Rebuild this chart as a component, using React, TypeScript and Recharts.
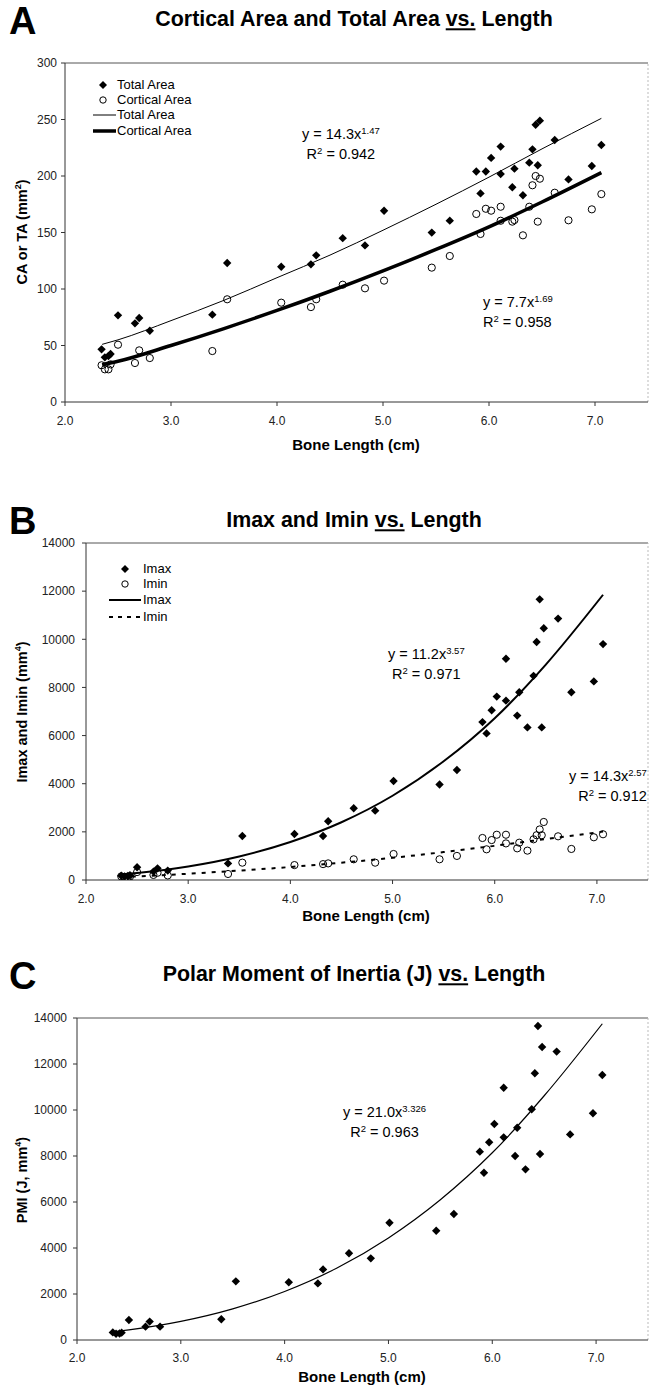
import React from 'react';
import { ComposedChart, Scatter, Line, XAxis, YAxis, ReferenceLine } from 'recharts';

const FONT = '"Liberation Sans", Arial, sans-serif';

// Bone length (cm) for each specimen, shared by all panels
const boneLength = [2.345, 2.376, 2.41, 2.43, 2.5, 2.66, 2.7, 2.8, 3.39, 3.53, 4.04, 4.32, 4.37, 4.62, 4.83, 5.01, 5.46, 5.63, 5.88, 5.92, 5.97, 6.02, 6.11, 6.11, 6.22, 6.24, 6.32, 6.38, 6.41, 6.44, 6.46, 6.48, 6.62, 6.75, 6.97, 7.06];
// Panel A values (mm^2)
const totalArea = [46.6, 39.5, 40.7, 42.5, 76.7, 69.6, 74.3, 63, 77.3, 123, 119.7, 121.8, 129.8, 145, 138.6, 169.3, 149.9, 160.5, 204, 184.6, 204, 216, 201.8, 226, 190, 206.5, 183, 211.8, 223.6, 245.4, 209.5, 249, 231.9, 197, 208.8, 227.4];
const corticalArea = [32.5, 28.9, 28.9, 33.3, 50.7, 34.5, 45.7, 38.9, 45.1, 90.9, 87.9, 84, 90.9, 103.8, 100.6, 107.4, 118.9, 129.2, 166.4, 148.7, 171, 169.3, 160.4, 172.8, 159.6, 161, 147.5, 172.8, 191.8, 200, 159.6, 197.6, 185.2, 160.8, 170.5, 184];
// Panel B values (mm^4)
const imax = [180, 150, 170, 200, 530, 350, 485, 390, 690, 1830, 1910, 1830, 2440, 2980, 2880, 4110, 3970, 4570, 6560, 6090, 7050, 7620, 7450, 9190, 6830, 7800, 6340, 8480, 9890, 11660, 6340, 10460, 10860, 7800, 8250, 9800];
const imin = [150, 100, 110, 140, 330, 210, 300, 190, 250, 720, 620, 660, 690, 860, 720, 1080, 860, 1000, 1745, 1275, 1660, 1880, 1520, 1880, 1315, 1550, 1220, 1690, 1860, 2100, 1860, 2410, 1815, 1290, 1775, 1900];
// Panel C values (J, mm^4)
const pmi = [330, 270, 280, 320, 870, 580, 800, 580, 900, 2550, 2510, 2460, 3070, 3770, 3550, 5100, 4750, 5480, 8190, 7270, 8600, 9390, 8810, 10970, 8000, 9230, 7420, 10030, 11600, 13650, 8090, 12740, 12540, 8940, 9860, 11520];

// Trend curves
const trendX = [2.35, 2.5, 3, 3.5, 4, 4.5, 5, 5.5, 6, 6.5, 7.06];
const taTrend = [51, 55, 72, 90, 110, 130, 152, 175, 199, 224, 251];
const caTrend = [33, 36, 50, 65, 81, 98, 116, 135, 155, 177, 203];
const imaxTrend = [236, 295, 565, 980, 1580, 2400, 3500, 4930, 6720, 8950, 11850];
const iminTrend = [128, 150, 260, 390, 540, 720, 920, 1160, 1420, 1700, 2010];
const pmiTrend = [359, 442, 811, 1355, 2110, 3120, 4440, 6100, 8140, 10620, 13750];

// Axis ticks
const xTicks = [2, 3, 4, 5, 6, 7];
const areaTicks = [0, 50, 100, 150, 200, 250, 300];
const inertiaTicks = [0, 2000, 4000, 6000, 8000, 10000, 12000, 14000];

const pts = (xs: number[], ys: number[]) => xs.map((x, i) => ({ x, y: ys[i] }));

const Diamond = (p: any) => {
  const { cx, cy } = p;
  const r = 4.2;
  return <polygon points={`${cx},${cy - r} ${cx + r},${cy} ${cx},${cy + r} ${cx - r},${cy}`} fill="#000" />;
};
const Ring = (p: any) => <circle cx={p.cx} cy={p.cy} r={3.6} fill="none" stroke="#000" strokeWidth={1} />;

const tickStyle = { fill: '#222', fontSize: 12, fontFamily: FONT };

const Txt = ({ x, y, children, style }: any) => (
  <div style={{ position: 'absolute', left: x, top: y, whiteSpace: 'nowrap', lineHeight: 1, fontFamily: FONT, color: '#000', ...style }}>{children}</div>
);
const Center = ({ x, y, children, style }: any) => (
  <Txt x={x} y={y} style={{ transform: 'translate(-50%, -50%)', ...style }}>{children}</Txt>
);
const VTitle = ({ x, y, children }: any) => (
  <Txt x={x} y={y} style={{ transform: 'translate(-50%, -50%) rotate(-90deg)', fontWeight: 'bold', fontSize: 14.5 }}>{children}</Txt>
);

const LegendMarker = ({ x, y, kind }: any) => (
  <svg style={{ position: 'absolute', left: x - 6, top: y - 6 }} width={12} height={12}>
    {kind === 'diamond' ? <polygon points="6,2 10,6 6,10 2,6" fill="#000" /> : <circle cx={6} cy={6} r={3.2} fill="none" stroke="#000" strokeWidth={1} />}
  </svg>
);
const LegendLine = ({ x1, x2, y, width, dash }: any) => (
  <svg style={{ position: 'absolute', left: x1, top: y - 4 }} width={x2 - x1} height={8}>
    <line x1={0} x2={x2 - x1} y1={4} y2={4} stroke="#000" strokeWidth={width} strokeDasharray={dash} />
  </svg>
);

const Eq = ({ x, y, a, b, r2, align }: any) => (
  <div style={{ position: 'absolute', left: x, top: y, fontFamily: FONT, fontSize: 14.5, lineHeight: '20px', textAlign: align || 'center', whiteSpace: 'nowrap' }}>
    <div>y = {a}x<sup style={{ fontSize: 9.5, verticalAlign: 'top', position: 'relative', top: -3 }}>{b}</sup></div>
    <div>R<sup style={{ fontSize: 9.5, verticalAlign: 'top', position: 'relative', top: -3 }}>2</sup> = {r2}</div>
  </div>
);

const fmtX = (v: number) => v.toFixed(1);

export default function App() {
  return (
    <div style={{ position: 'absolute', left: 0, top: 0, width: 652, height: 1388, background: '#fff', overflow: 'hidden' }}>
      {/* Panel A */}
      <div style={{ position: 'absolute', left: 0, top: 0 }}>
        <ComposedChart width={652} height={460} margin={{ top: 63, right: 4, bottom: 28, left: 0 }}>
          <XAxis type="number" dataKey="x" domain={[2, 7.5]} ticks={xTicks} tickFormatter={fmtX} height={30} tick={tickStyle} tickSize={4} tickMargin={10} axisLine={{ stroke: '#333' }} tickLine={{ stroke: '#333' }} allowDataOverflow />
          <YAxis type="number" dataKey="y" domain={[0, 300]} ticks={areaTicks} width={65} tick={tickStyle} tickSize={4} tickMargin={4} axisLine={{ stroke: '#333' }} tickLine={{ stroke: '#333' }} allowDataOverflow />
          <ReferenceLine y={300} stroke="#555" strokeWidth={1} />
          <ReferenceLine x={7.5} stroke="#bbb" strokeDasharray="2 2" />
          <Line data={pts(trendX, taTrend)} dataKey="y" type="monotone" stroke="#000" strokeWidth={1} dot={false} isAnimationActive={false} />
          <Line data={pts(trendX, caTrend)} dataKey="y" type="monotone" stroke="#000" strokeWidth={3.5} dot={false} isAnimationActive={false} />
          <Scatter data={pts(boneLength, totalArea)} dataKey="y" shape={Diamond} isAnimationActive={false} />
          <Scatter data={pts(boneLength, corticalArea)} dataKey="y" shape={Ring} isAnimationActive={false} />
        </ComposedChart>
      </div>
      <Txt x={9} y={2} style={{ fontSize: 38, fontWeight: 'bold' }}>A</Txt>
      <Center x={354} y={20} style={{ fontSize: 21.4, fontWeight: 'bold' }}>Cortical Area and Total Area <u>vs.</u> Length</Center>
      <VTitle x={22} y={232}>CA or TA (mm<sup style={{ fontSize: 9 }}>2</sup>)</VTitle>
      <Center x={356} y={444} style={{ fontSize: 15, fontWeight: 'bold' }}>Bone Length (cm)</Center>
      <LegendMarker x={103} y={85} kind="diamond" />
      <Txt x={117} y={78} style={{ fontSize: 13 }}>Total Area</Txt>
      <LegendMarker x={103} y={100} kind="ring" />
      <Txt x={117} y={93} style={{ fontSize: 13 }}>Cortical Area</Txt>
      <LegendLine x1={93} x2={116} y={115} width={1} />
      <Txt x={117} y={108} style={{ fontSize: 13 }}>Total Area</Txt>
      <LegendLine x1={93} x2={116} y={131} width={3.5} />
      <Txt x={117} y={124} style={{ fontSize: 13 }}>Cortical Area</Txt>
      <Eq x={302} y={124} a="14.3" b="1.47" r2="0.942" />
      <Eq x={483} y={292} a="7.7" b="1.69" r2="0.958" align="left" />

      {/* Panel B */}
      <div style={{ position: 'absolute', left: 0, top: 480 }}>
        <ComposedChart width={652} height={460} margin={{ top: 63, right: 4, bottom: 30, left: 0 }}>
          <XAxis type="number" dataKey="x" domain={[2, 7.5]} ticks={xTicks} tickFormatter={fmtX} height={30} tick={tickStyle} tickSize={4} tickMargin={10} axisLine={{ stroke: '#333' }} tickLine={{ stroke: '#333' }} allowDataOverflow />
          <YAxis type="number" dataKey="y" domain={[0, 14000]} ticks={inertiaTicks} width={86} tick={tickStyle} tickSize={4} tickMargin={7} axisLine={{ stroke: '#333' }} tickLine={{ stroke: '#333' }} allowDataOverflow />
          <ReferenceLine y={14000} stroke="#555" strokeWidth={1} />
          <ReferenceLine x={7.5} stroke="#bbb" strokeDasharray="2 2" />
          <Line data={pts(trendX, imaxTrend)} dataKey="y" type="monotone" stroke="#000" strokeWidth={2} dot={false} isAnimationActive={false} />
          <Line data={pts(trendX, iminTrend)} dataKey="y" type="monotone" stroke="#000" strokeWidth={2} strokeDasharray="4 6" dot={false} isAnimationActive={false} />
          <Scatter data={pts(boneLength, imax)} dataKey="y" shape={Diamond} isAnimationActive={false} />
          <Scatter data={pts(boneLength, imin)} dataKey="y" shape={Ring} isAnimationActive={false} />
        </ComposedChart>
      </div>
      <Txt x={9} y={502} style={{ fontSize: 38, fontWeight: 'bold' }}>B</Txt>
      <Center x={354} y={521} style={{ fontSize: 21.4, fontWeight: 'bold' }}>Imax and Imin <u>vs.</u> Length</Center>
      <VTitle x={22} y={712}>Imax and Imin (mm<sup style={{ fontSize: 9 }}>4</sup>)</VTitle>
      <Center x={366} y={915} style={{ fontSize: 15, fontWeight: 'bold' }}>Bone Length (cm)</Center>
      <LegendMarker x={125} y={569} kind="diamond" />
      <Txt x={143} y={562} style={{ fontSize: 13 }}>Imax</Txt>
      <LegendMarker x={125} y={584} kind="ring" />
      <Txt x={143} y={577} style={{ fontSize: 13 }}>Imin</Txt>
      <LegendLine x1={109} x2={141} y={600} width={2} />
      <Txt x={143} y={593} style={{ fontSize: 13 }}>Imax</Txt>
      <LegendLine x1={109} x2={141} y={617} width={2} dash="4 5" />
      <Txt x={143} y={610} style={{ fontSize: 13 }}>Imin</Txt>
      <Eq x={388} y={644} a="11.2" b="3.57" r2="0.971" />
      <Eq x={569} y={766} a="14.3" b="2.57" r2="0.912" align="right" />

      {/* Panel C */}
      <div style={{ position: 'absolute', left: 0, top: 955 }}>
        <ComposedChart width={652} height={433} margin={{ top: 63, right: 4, bottom: 18, left: 0 }}>
          <XAxis type="number" dataKey="x" domain={[2, 7.5]} ticks={xTicks} tickFormatter={fmtX} height={30} tick={tickStyle} tickSize={4} tickMargin={9} axisLine={{ stroke: '#333' }} tickLine={{ stroke: '#333' }} allowDataOverflow />
          <YAxis type="number" dataKey="y" domain={[0, 14000]} ticks={inertiaTicks} width={77} tick={tickStyle} tickSize={4} tickMargin={6} axisLine={{ stroke: '#333' }} tickLine={{ stroke: '#333' }} allowDataOverflow />
          <ReferenceLine y={14000} stroke="#555" strokeWidth={1} />
          <ReferenceLine x={7.5} stroke="#bbb" strokeDasharray="2 2" />
          <Line data={pts(trendX, pmiTrend)} dataKey="y" type="monotone" stroke="#000" strokeWidth={1.2} dot={false} isAnimationActive={false} />
          <Scatter data={pts(boneLength, pmi)} dataKey="y" shape={Diamond} isAnimationActive={false} />
        </ComposedChart>
      </div>
      <Txt x={9} y={957} style={{ fontSize: 38, fontWeight: 'bold' }}>C</Txt>
      <Center x={354} y={975} style={{ fontSize: 21.4, fontWeight: 'bold' }}>Polar Moment of Inertia (J) <u>vs.</u> Length</Center>
      <VTitle x={22} y={1180}>PMI (J, mm<sup style={{ fontSize: 9 }}>4</sup>)</VTitle>
      <Center x={362} y={1376} style={{ fontSize: 15, fontWeight: 'bold' }}>Bone Length (cm)</Center>
      <Eq x={343} y={1102} a="21.0" b="3.326" r2="0.963" />
    </div>
  );
}
